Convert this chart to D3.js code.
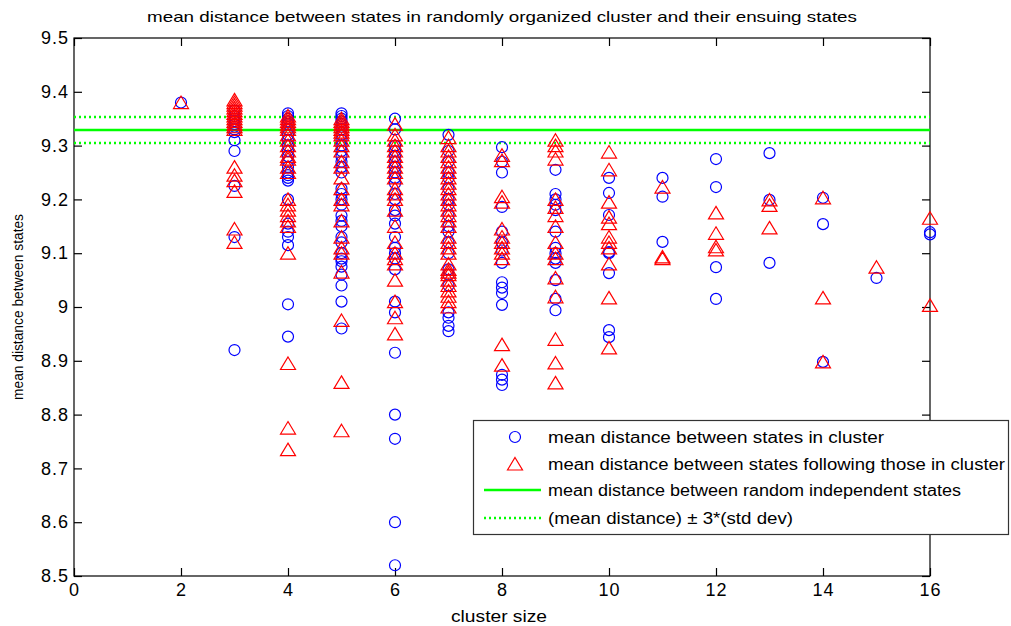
<!DOCTYPE html>
<html>
<head>
<meta charset="utf-8">
<script src="https://cdn.jsdelivr.net/npm/d3@7/dist/d3.min.js"></script>
<style>
  body { margin: 0; background: #fff; }
  text { font-family: "Liberation Sans", Arial, sans-serif; fill: #000; }
</style>
</head>
<body>
<div class="chart"></div>
<script>
// data: one entry per cluster size
var clusterSizes = [2, 3, 4, 5, 6, 7, 8, 9, 10, 11, 12, 13, 14, 15, 16];

// mean distance between states in cluster (blue circles)
var inCluster = [
  [9.38],
  [9.365, 9.355, 9.35, 9.345, 9.34, 9.335, 9.33, 9.325, 9.31, 9.29, 9.225, 9.13, 8.92],
  [9.36, 9.355, 9.35, 9.345, 9.34, 9.33, 9.32, 9.31, 9.3, 9.29, 9.28, 9.27, 9.26, 9.25, 9.245, 9.24, 9.235, 9.2, 9.155, 9.14, 9.13, 9.115, 9.005, 8.945],
  [9.36, 9.355, 9.35, 9.345, 9.34, 9.335, 9.33, 9.32, 9.31, 9.3, 9.29, 9.28, 9.27, 9.26, 9.25, 9.22, 9.21, 9.2, 9.19, 9.17, 9.16, 9.15, 9.13, 9.12, 9.1, 9.09, 9.085, 9.075, 9.06, 9.04, 9.01, 8.96],
  [9.35, 9.33, 9.3, 9.29, 9.28, 9.27, 9.26, 9.25, 9.24, 9.23, 9.21, 9.2, 9.18, 9.17, 9.155, 9.13, 9.11, 9.1, 9.09, 9.07, 9.01, 8.99, 8.915, 8.8, 8.755, 8.6, 8.52],
  [9.32, 9.29, 9.27, 9.25, 9.24, 9.22, 9.2, 9.19, 9.17, 9.15, 9.14, 9.12, 9.1, 9.07, 9.06, 9.04, 8.99, 8.98, 8.965, 8.955],
  [9.297, 9.27, 9.25, 9.186, 9.14, 9.12, 9.105, 9.082, 9.046, 9.036, 9.026, 9.004, 8.874, 8.865, 8.855],
  [9.255, 9.21, 9.2, 9.19, 9.18, 9.14, 9.11, 9.1, 9.09, 9.082, 9.05, 9.015, 8.994],
  [9.24, 9.212, 9.171, 9.102, 9.1, 9.063, 8.957, 8.944],
  [9.24, 9.205, 9.121],
  [9.275, 9.223, 9.074, 9.015],
  [9.286, 9.199, 9.082],
  [9.203, 9.154, 8.898],
  [9.054],
  [9.139, 9.135]
];

// mean distance between states following those in cluster (red triangles)
var following = [
  [9.38],
  [9.385, 9.38, 9.375, 9.37, 9.365, 9.36, 9.355, 9.35, 9.345, 9.34, 9.335, 9.33, 9.26, 9.245, 9.235, 9.215, 9.145, 9.12],
  [9.355, 9.35, 9.345, 9.34, 9.335, 9.33, 9.32, 9.31, 9.3, 9.29, 9.28, 9.275, 9.26, 9.25, 9.2, 9.19, 9.18, 9.17, 9.16, 9.15, 9.1, 8.895, 8.775, 8.735],
  [9.35, 9.345, 9.34, 9.335, 9.33, 9.325, 9.32, 9.31, 9.3, 9.29, 9.27, 9.26, 9.24, 9.22, 9.2, 9.19, 9.16, 9.13, 9.11, 9.1, 9.065, 8.975, 8.86, 8.77],
  [9.34, 9.32, 9.31, 9.3, 9.29, 9.28, 9.27, 9.26, 9.25, 9.24, 9.22, 9.21, 9.2, 9.18, 9.15, 9.12, 9.1, 9.09, 9.08, 9.05, 9.01, 8.98, 8.95],
  [9.315, 9.3, 9.29, 9.28, 9.27, 9.26, 9.25, 9.24, 9.23, 9.22, 9.21, 9.2, 9.19, 9.18, 9.17, 9.16, 9.15, 9.13, 9.12, 9.11, 9.1, 9.08, 9.07, 9.065, 9.06, 9.05, 9.04, 9.03, 9.02, 9.01, 9.0],
  [9.282, 9.272, 9.205, 9.195, 9.145, 9.13, 9.12, 9.11, 9.1, 9.09, 8.93, 8.892],
  [9.31, 9.3, 9.29, 9.275, 9.2, 9.185, 9.17, 9.15, 9.12, 9.1, 9.09, 9.054, 9.019, 8.94, 8.896, 8.859],
  [9.288, 9.255, 9.195, 9.167, 9.155, 9.13, 9.12, 9.11, 9.08, 9.017, 8.924],
  [9.223, 9.093, 9.09],
  [9.175, 9.137, 9.112, 9.106],
  [9.199, 9.189, 9.147],
  [9.203, 9.017, 8.898],
  [9.074],
  [9.165, 9.003]
];

// random independent states: mean and mean +/- 3 std dev
var randomMean = 9.329;
var randomBand = [9.305, 9.353];

var xTicks = [0, 2, 4, 6, 8, 10, 12, 14, 16];
var yTicks = [8.5, 8.6, 8.7, 8.8, 8.9, 9, 9.1, 9.2, 9.3, 9.4, 9.5];

var legendLabels = [
  'mean distance between states in cluster',
  'mean distance between states following those in cluster',
  'mean distance between random independent states',
  '(mean distance) \u00b1 3*(std dev)'
];
var legendWidths = [336, 457, 413, 245];

var width = 1011;
var height = 626;
// plot box (window.top is read-only, so no "top" here)
var pLeft = 74, pTop = 38, pRight = 930, pBottom = 576;

var svg = d3.select('.chart').append('svg')
  .attr('width', width)
  .attr('height', height);

var x = d3.scaleLinear().domain([0, 16]).range([pLeft, pRight]);
var y = d3.scaleLinear().domain([8.5, 9.5]).range([pBottom, pTop]);

// flatten to points
var circles = [];
var triangles = [];
clusterSizes.forEach(function(s, i) {
  inCluster[i].forEach(function(v) { circles.push({x: s, y: v}); });
  following[i].forEach(function(v) { triangles.push({x: s, y: v}); });
});

var fmt = function(d) { return String(Math.round(d * 10) / 10); };

// axes, matlab style: ticks pointing in, all four sides
svg.append('g')
  .attr('class', 'xax')
  .attr('transform', 'translate(0,' + pBottom + ')')
  .call(d3.axisBottom(x).tickValues(xTicks).tickSizeInner(-8).tickSizeOuter(0).tickPadding(7).tickFormat(fmt))
  .call(function(g) { g.select('.domain').remove(); });
svg.append('g')
  .attr('transform', 'translate(0,' + pTop + ')')
  .call(d3.axisTop(x).tickValues(xTicks).tickSizeInner(-8).tickSizeOuter(0).tickFormat(''))
  .call(function(g) { g.select('.domain').remove(); });
svg.append('g')
  .attr('class', 'yax')
  .attr('transform', 'translate(' + pLeft + ',0)')
  .call(d3.axisLeft(y).tickValues(yTicks).tickSizeInner(-8).tickSizeOuter(0).tickPadding(5).tickFormat(fmt))
  .call(function(g) { g.select('.domain').remove(); });
svg.append('g')
  .attr('transform', 'translate(' + pRight + ',0)')
  .call(d3.axisRight(y).tickValues(yTicks).tickSizeInner(-8).tickSizeOuter(0).tickFormat(''))
  .call(function(g) { g.select('.domain').remove(); });

svg.selectAll('.tick text')
  .style('font-family', '"Liberation Sans", Arial, sans-serif')
  .style('font-size', '18px')
  .style('letter-spacing', '1px');
svg.selectAll('.tick line').attr('stroke-width', 1.2);

svg.append('rect')
  .attr('x', pLeft).attr('y', pTop)
  .attr('width', pRight - pLeft).attr('height', pBottom - pTop)
  .attr('fill', 'none').attr('stroke', '#000').attr('stroke-width', 1.2);

// reference lines
svg.append('line')
  .attr('x1', pLeft).attr('x2', pRight)
  .attr('y1', y(randomMean)).attr('y2', y(randomMean))
  .attr('stroke', '#00ff00').attr('stroke-width', 2.5);
svg.selectAll('.band')
  .data(randomBand)
  .enter().append('line')
  .attr('class', 'band')
  .attr('x1', pLeft).attr('x2', pRight)
  .attr('y1', function(d) { return y(d); })
  .attr('y2', function(d) { return y(d); })
  .attr('stroke', '#00ff00').attr('stroke-width', 2.5)
  .attr('stroke-dasharray', '2,3');

// markers
var tri = 'M0,-6.5L7.5,6L-7.5,6Z';

svg.selectAll('circle.incl')
  .data(circles)
  .enter().append('circle')
  .attr('class', 'incl')
  .attr('cx', function(d) { return x(d.x); })
  .attr('cy', function(d) { return y(d.y); })
  .attr('r', 5.5)
  .attr('fill', 'none')
  .attr('stroke', '#0000ff')
  .attr('stroke-width', 1.2);

svg.selectAll('path.foll')
  .data(triangles)
  .enter().append('path')
  .attr('class', 'foll')
  .attr('d', tri)
  .attr('transform', function(d) { return 'translate(' + x(d.x) + ',' + y(d.y) + ')'; })
  .attr('fill', 'none')
  .attr('stroke', '#ff0000')
  .attr('stroke-width', 1.2);

// title and axis labels
svg.append('text')
  .attr('x', (pLeft + pRight) / 2).attr('y', 22)
  .attr('text-anchor', 'middle')
  .attr('textLength', 710).attr('lengthAdjust', 'spacingAndGlyphs')
  .style('font-size', '15px')
  .text('mean distance between states in randomly organized cluster and their ensuing states');
svg.append('text')
  .attr('x', (pLeft + pRight) / 2 - 3).attr('y', 622)
  .attr('text-anchor', 'middle')
  .attr('textLength', 96).attr('lengthAdjust', 'spacingAndGlyphs')
  .style('font-size', '16px')
  .text('cluster size');
svg.append('text')
  .attr('transform', 'translate(23,' + (pTop + pBottom) / 2 + ') rotate(-90)')
  .attr('text-anchor', 'middle')
  .attr('textLength', 186).attr('lengthAdjust', 'spacingAndGlyphs')
  .style('font-size', '15px')
  .text('mean distance between states');

// legend
var lg = svg.append('g');
lg.append('rect')
  .attr('x', 473.5).attr('y', 420.5)
  .attr('width', 535).attr('height', 114)
  .attr('fill', '#fff').attr('stroke', '#333').attr('stroke-width', 1.2);

var rowY = [437, 464, 490, 518];
lg.selectAll('text')
  .data(legendLabels)
  .enter().append('text')
  .attr('x', 548)
  .attr('y', function(d, i) { return rowY[i] + 6; })
  .attr('textLength', function(d, i) { return legendWidths[i]; })
  .attr('lengthAdjust', 'spacingAndGlyphs')
  .style('font-size', '16px')
  .text(function(d) { return d; });

lg.append('circle')
  .attr('cx', 515).attr('cy', rowY[0]).attr('r', 5.5)
  .attr('fill', 'none').attr('stroke', '#0000ff').attr('stroke-width', 1.2);
lg.append('path')
  .attr('d', tri)
  .attr('transform', 'translate(515,' + rowY[1] + ')')
  .attr('fill', 'none').attr('stroke', '#ff0000').attr('stroke-width', 1.2);
lg.append('line')
  .attr('x1', 484).attr('x2', 541).attr('y1', rowY[2]).attr('y2', rowY[2])
  .attr('stroke', '#00ff00').attr('stroke-width', 2.5);
lg.append('line')
  .attr('x1', 484).attr('x2', 541).attr('y1', rowY[3]).attr('y2', rowY[3])
  .attr('stroke', '#00ff00').attr('stroke-width', 2.5)
  .attr('stroke-dasharray', '2,3');
</script>
</body>
</html>
